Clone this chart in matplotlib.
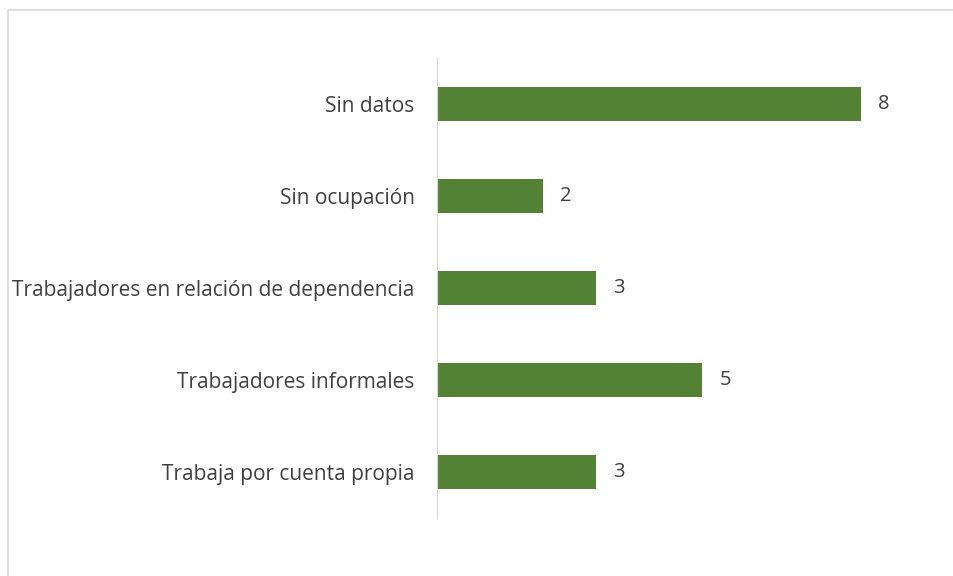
import matplotlib.pyplot as plt
from matplotlib.patches import Rectangle

categorias = ['Sin datos', 'Sin ocupación', 'Trabajadores en relación de dependencia',
              'Trabajadores informales', 'Trabaja por cuenta propia']
valores = [8, 2, 3, 5, 3]

plt.rcParams['font.family'] = ['Open Sans', 'DejaVu Sans']

fig = plt.figure(figsize=(9.54, 5.76), dpi=100)
ax = fig.add_axes([0.458, 0.1007, 0.50, 0.798])

# borde del área del gráfico (se sale por la derecha y abajo)
fig.patches.append(Rectangle((8 / 954, -0.05), 1.0, 1 - 10 / 576 + 0.05,
                             transform=fig.transFigure, fill=False,
                             edgecolor='#d9d9d9', linewidth=1.2))

pos = list(range(len(categorias)))[::-1]
ax.barh(pos, valores, height=0.37, color='#548235')

for p, v in zip(pos, valores):
    ax.text(v + 0.33, p, str(v), va='center', ha='left', fontsize=14.5, color='#404040')

ax.set_yticks(pos)
ax.set_yticklabels(categorias, fontsize=15, color='#404040')
ax.tick_params(axis='y', length=0, pad=16)
ax.set_xticks([])
ax.set_xlim(0, 9)
ax.set_ylim(-0.5, 4.5)

for s in ['top', 'right', 'bottom']:
    ax.spines[s].set_visible(False)
ax.spines['left'].set_color('#d9d9d9')

fig.savefig('out.png', dpi=100)
